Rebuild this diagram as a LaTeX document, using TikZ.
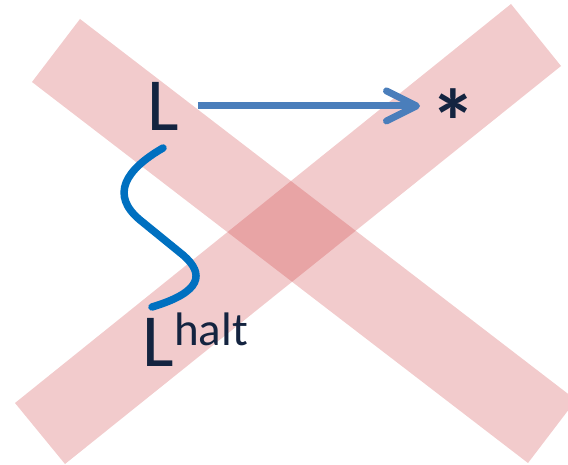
\documentclass[tikz,border=0pt]{standalone}
\usepackage{fontspec}
\setmainfont{Carlito}
\usetikzlibrary{arrows.meta}
\definecolor{barred}{RGB}{203,47,51}
\definecolor{inkblue}{RGB}{20,36,64}
\definecolor{arrowblue}{RGB}{74,126,187}
\definecolor{wavyblue}{RGB}{0,112,192}
\tikzset{
  bar/.style={fill=barred, fill opacity=0.25, draw=none},
  bigtext/.style={inner sep=0pt, text=inkblue, font=\fontsize{75}{80}\selectfont},
  startext/.style={inner sep=0pt, text=inkblue, font=\fontsize{92}{92}\selectfont\bfseries},
  suptext/.style={inner sep=0pt, text=inkblue, font=\fontsize{47}{50}\selectfont},
  mapsto/.style={draw=arrowblue, line width=7pt,
    -{Straight Barb[length=30pt, width=30pt, round]}},
  wavy/.style={draw=wavyblue, line width=7.5pt, line cap=round},
}
\begin{document}
\begin{tikzpicture}[x=1pt, y=-1pt]
  \useasboundingbox (0,0) rectangle (568,465);
  % the two crossing bars
  \path[bar] (80,19) -- (32,82) -- (528,463) -- (576,400) -- cycle;
  \path[bar] (511,4) -- (561,66) -- (65,464) -- (15,403) -- cycle;
  % labels
  \node[bigtext, anchor=base west] (Lt) at (147,131) {L};
  \node[startext, anchor=north] (st) at (453,88) {*};
  \node[bigtext, anchor=base west] (Lb) at (142,366) {L};
  \node[suptext, anchor=base west] (halt) at (174,345) {halt};
  % arrow from L to *
  \path ([xshift=19pt,yshift=1pt]Lt.east) coordinate (a0);
  \path ([xshift=-33pt]st.north) coordinate (a1);
  \draw[mapsto] (a0) -- (a0 -| a1);
  % wavy line from L down to L^halt
  \coordinate (w0) at (163,148);
  \coordinate (w1) at (152,307);
  \draw[wavy] (w0) .. controls (125,170) and (110,195) .. (140,220)
     -- (183,255) .. controls (205,274) and (202,292) .. (w1);
\end{tikzpicture}
\end{document}
